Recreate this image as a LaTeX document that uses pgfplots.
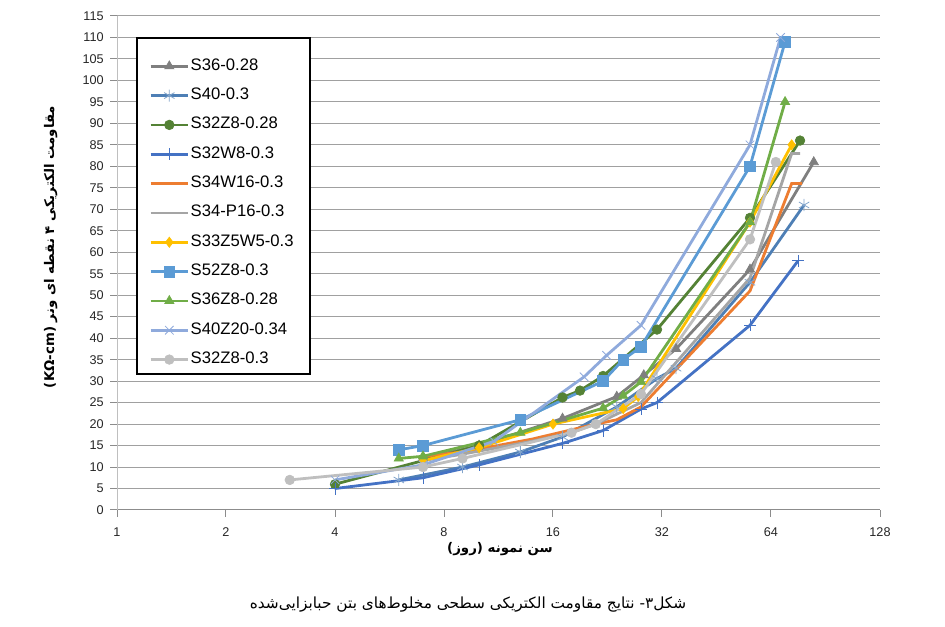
\documentclass[border=0pt]{standalone}
\usepackage{fontspec}
\setmainfont{Liberation Sans}
\newfontfamily\arabicfont[Script=Arabic]{DejaVu Sans}
\TeXXeTstate=1
\usepackage{pgfplots}
\pgfplotsset{compat=1.18}
\definecolor{cA}{HTML}{7F7F7F}
\definecolor{cB}{HTML}{4E7FB5}
\definecolor{cC}{HTML}{548235}
\definecolor{cD}{HTML}{4472C4}
\definecolor{cE}{HTML}{ED7D31}
\definecolor{cF}{HTML}{A5A5A5}
\definecolor{cG}{HTML}{FFC000}
\definecolor{cH}{HTML}{5B9BD5}
\definecolor{cI}{HTML}{70AD47}
\definecolor{cJ}{HTML}{8FAADC}
\definecolor{cK}{HTML}{BFBFBF}
\definecolor{gridc}{HTML}{A0A0A0}
\definecolor{axisc}{HTML}{8C8C8C}
\definecolor{laxisc}{HTML}{BFBFBF}
\begin{document}
\begin{tikzpicture}[x=1pt,y=1pt]
\useasboundingbox (0,0) rectangle (708.75,470.25);
\begin{axis}[
  at={(87.75pt,87.75pt)}, anchor=south west,
  scale only axis, width=572.25pt, height=370.5pt,
  xmode=log, log basis x=2, xmin=1, xmax=128, ymin=0, ymax=115,
  xtick={1,2,4,8,16,32,64,128}, xticklabels={1,2,4,8,16,32,64,128},
  ytick={0,5,...,115},
  ymajorgrids, grid style={color=gridc, line width=0.75pt},
  axis x line*=bottom, axis y line*=left,
  x axis line style={color=axisc, line width=0.75pt},
  y axis line style={color=laxisc, line width=0.75pt},
  tick align=outside, major tick length=5pt,
  tick style={color=axisc, line width=0.75pt},
  ticklabel style={font=\fontsize{9.5}{11}\selectfont, color=black!85},
  xticklabel style={yshift=-5pt},
  yticklabel style={xshift=-1.5pt},
  /pgf/number format/assume math mode=true,
  legend cell align=left,
  legend style={at={(rel axis cs:0.0262,0.9555)}, anchor=north west,
    draw=none, fill=none, inner xsep=9pt, inner ysep=14pt,
    font=\fontsize{12.5}{14}\selectfont, row sep=8pt,
    nodes={inner sep=1pt, text height=9pt, text depth=3pt}},
  legend image code/.code={\draw[mark repeat=2,mark phase=2,#1] plot coordinates {(0pt,0pt) (14pt,0pt) (28pt,0pt)};},
  every axis plot/.append style={line width=2.1pt},
]
% S36-0.28
\addplot[color=cA, mark=triangle*, mark size=4pt, mark options={solid,line width=0.5pt}] coordinates {
 (7,12) (10,15) (17,21.3) (24,26.4) (28.5,31.4) (35,37.5) (56,56) (84,81)};
% S40-0.3
\addplot[color=cB, mark=asterisk, mark size=4.5pt, mark options={solid,line width=0.6pt,color=cB!70!white}] coordinates {
 (6,7) (9,10) (13,13.5) (17,17) (24,24) (31,30.6) (35,33) (56,53) (79,71)};
% S32Z8-0.28
\addplot[color=cC, mark=*, mark size=3.6pt, mark options={solid,line width=0.5pt}] coordinates {
 (4,6) (10,15) (17,26.2) (19,27.8) (22,31.2) (31,42) (56,68) (77,86)};
% S32W8-0.3
\addplot[color=cD, mark=+, mark size=4.5pt, mark options={solid,line width=0.6pt}] coordinates {
 (4,5) (7,7.5) (10,10.5) (17,15.5) (22,18.5) (28,23.5) (31,25) (56,43) (76,58)};
% S34W16-0.3
\addplot[color=cE, no marks] coordinates {
 (7,12.5) (9,13.5) (14,16.5) (21,20) (24,21) (28,24) (56,51) (73,76) (78,76)};
% S34-P16-0.3
\addplot[color=cF, no marks] coordinates {
 (7,11.5) (9,13) (14,16) (18,18) (21,20) (28,25) (56,54) (73,83) (77,83)};
% S33Z5W5-0.3
\addplot[color=cG, mark=diamond*, mark size=3.8pt, mark options={solid,line width=0.5pt}] coordinates {
 (7,11.5) (10,14.5) (16,20) (25,23.6) (27.5,26.4) (56,67) (73,85)};
% S52Z8-0.3
\addplot[color=cH, mark=square*, mark size=4pt, mark options={solid,line width=0.5pt}] coordinates {
 (6,14) (7,15) (13,21) (22,30) (25,35) (28,38) (56,80) (70,109)};
% S36Z8-0.28
\addplot[color=cI, mark=triangle*, mark size=4pt, mark options={solid,line width=0.5pt}] coordinates {
 (6,12) (7,12.5) (13,18) (22,23.7) (25,26.6) (28,29.8) (56,67) (70,95)};
% S40Z20-0.34
\addplot[color=cJ, mark=x, mark size=4.5pt, mark options={solid,line width=0.6pt}] coordinates {
 (4,7) (7,10.5) (11,16) (19.5,31) (22.5,36) (28,43) (56,85) (68,110)};
% S32Z8-0.3
\addplot[color=cK, mark=*, mark size=3.6pt, mark options={solid,line width=0.5pt}] coordinates {
 (3,7) (7,10) (9,12) (18,18) (21,20) (28,27) (56,63) (66,81)};
\legend{S36-0.28,S40-0.3,S32Z8-0.28,S32W8-0.3,S34W16-0.3,S34-P16-0.3,S33Z5W5-0.3,S52Z8-0.3,S36Z8-0.28,S40Z20-0.34,S32Z8-0.3}
\draw[fill=white, draw=black, line width=1.5pt] (rel axis cs:0.0262,0.9555) rectangle (rel axis cs:0.2530,0.2753);
\end{axis}
\node[rotate=90, font=\arabicfont\bfseries\fontsize{10}{12}\selectfont] at (38,285) {\beginR مقاومت الکتریکی ۴ نقطه ای ونر \beginL(KΩ-cm)\endL\endR};
\node[font=\arabicfont\bfseries\fontsize{10}{12}\selectfont] at (375,58.5) {\beginR سن نمونه (روز)\endR};
\node[font=\arabicfont\fontsize{11.5}{13}\selectfont] at (351,17) {\beginR شکل۳- نتایج مقاومت الکتریکی سطحی مخلوط‌های بتن حبابزایی‌شده\endR};
\end{tikzpicture}
\end{document}
